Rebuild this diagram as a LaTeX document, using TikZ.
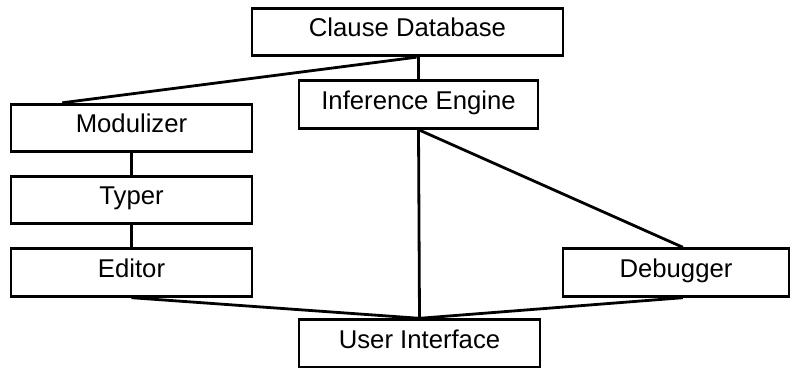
\documentclass[tikz,border=0pt]{standalone}
\usepackage{fontspec}
\setmainfont{Liberation Sans}
\usetikzlibrary{calc}
\tikzset{
	part/.style={draw,rectangle,inner sep=0pt,minimum height=23.8pt,
		text height=9.2pt,text depth=4.2pt,font=\fontsize{12.85}{15}\selectfont},
}

\begin{document}
\begin{tikzpicture}[x=.5pt,y=-.5pt,line width=1.4pt]
		\useasboundingbox (0,0) rectangle (791,368);
		\node[part,minimum width=155.5pt] (db) at (407.5,32) {Clause Database};
		\node[part,minimum width=119.5pt] (ie) at (418.5,104.5) {Inference Engine};
		\node[part,minimum width=120.5pt] (mod) at (131.5,128) {Modulizer};
		\node[part,minimum width=120.5pt] (typ) at (131.5,200) {Typer};
		\node[part,minimum width=120.5pt] (ed) at (131.5,272.5) {Editor};
		\node[part,minimum width=113pt] (dbg) at (676,272.5) {Debugger};
		\node[part,minimum width=120.5pt] (ui) at (419.5,343.5) {User Interface};
		\draw (ie.north) -- (ie.north |- db.south);
		\draw ($(ie.north |- db.south)+(-2,0)$) -- ($(mod.north west)!.216!(mod.north east)$);
		\foreach \aa/\bb in {mod/typ,typ/ed}
		{
			\draw (\aa.south) -- (\bb.north);
		}
		\draw (ie.south) -- (ui.north);
		\draw (ie.south) -- ($(dbg.north west)!.53!(dbg.north east)$);
		\draw (ed.south) -- (ui.north);
		\draw ($(dbg.south west)!.53!(dbg.south east)$) -- (ui.north);
	\end{tikzpicture}
\end{document}
